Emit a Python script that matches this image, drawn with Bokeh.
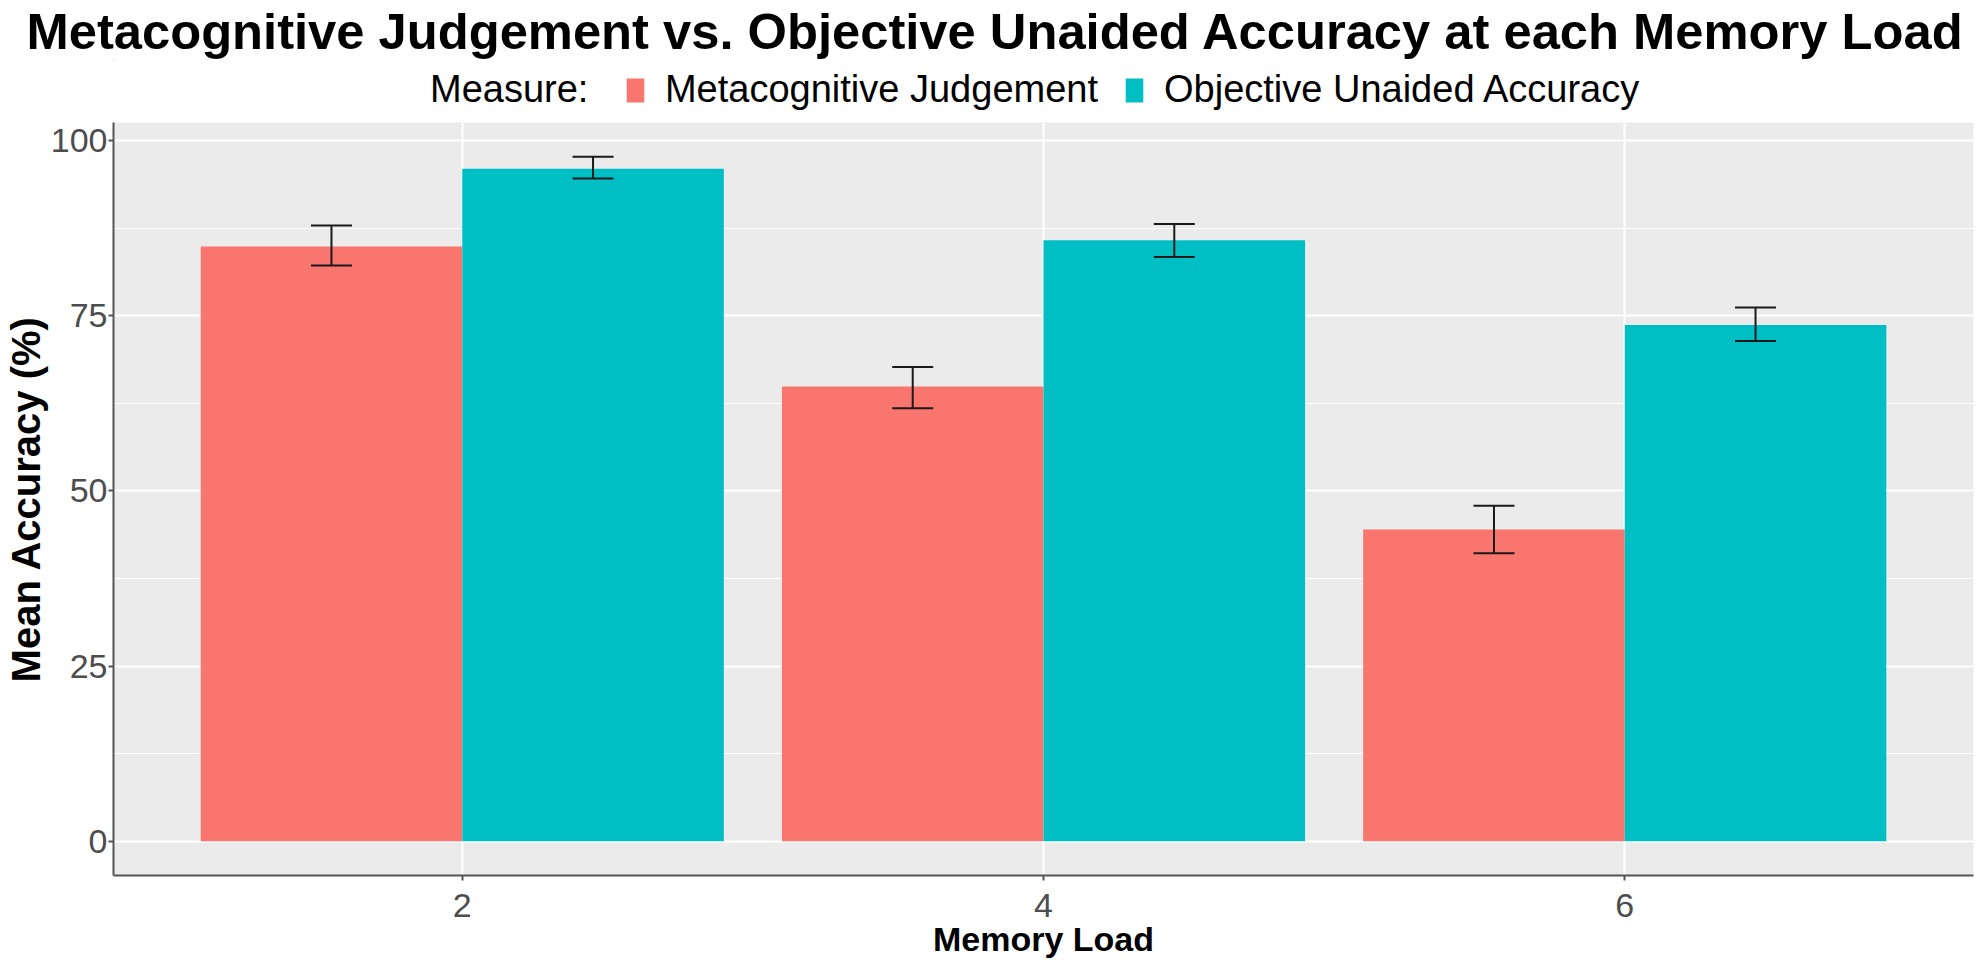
from bokeh.plotting import figure
from bokeh.models import (Range1d, FixedTicker, ColumnDataSource, Whisker, TeeHead,
                          Legend, LegendItem)
from bokeh.layouts import column
from bokeh.transform import dodge
from bokeh.embed import file_html
from bokeh.resources import INLINE

# ---- data ----
loads = ["2", "4", "6"]
positions = [1, 2, 3]
series = ["Metacognitive Judgement", "Objective Unaided Accuracy"]
colors = ["#F8766D", "#00BFC4"]
meta_mean = [84.9, 64.9, 44.5]
meta_lo = [82.2, 61.8, 41.1]
meta_hi = [87.9, 67.7, 47.9]
obj_mean = [96.0, 85.8, 73.7]
obj_lo = [94.6, 83.4, 71.4]
obj_hi = [97.7, 88.1, 76.2]
y_ticks = [0, 25, 50, 75, 100]
y_minor = [12.5, 37.5, 62.5, 87.5]
title_text = "Metacognitive Judgement vs. Objective Unaided Accuracy at each Memory Load"
legend_title = "Measure: "

FONT = "Liberation Sans"

src_m = ColumnDataSource(dict(x=positions, mean=meta_mean, lo=meta_lo, hi=meta_hi))
src_o = ColumnDataSource(dict(x=positions, mean=obj_mean, lo=obj_lo, hi=obj_hi))

# ---------------- header: title + legend ----------------
HEAD_H = 122
head = figure(width=1972, height=HEAD_H, output_backend="svg", toolbar_location=None,
              x_range=Range1d(10, 11), y_range=Range1d(-1, 0),
              x_axis_location=None, y_axis_location=None,
              min_border=0, min_border_left=0, min_border_right=0,
              min_border_top=0, min_border_bottom=0)
head.outline_line_color = None
head.background_fill_color = "white"
head.border_fill_color = "white"
head.grid.visible = False

head.title.text = title_text
head.title.text_font = FONT
head.title.text_font_size = "50.7px"
head.title.text_font_style = "bold"
head.title.text_color = "black"
head.title.align = "left"
head.title.offset = -87
head.title.standoff = 0

# key renderers (zero-size bars outside the header's ranges, only the legend keys show)
k_t = head.scatter(x=[], y=[], fill_alpha=0, line_alpha=0, size=0)
k_m = head.vbar(x="x", bottom="hi", top="hi", width=0, source=src_m,
                fill_color=colors[0], line_color=None)
k_o = head.vbar(x="x", bottom="hi", top="hi", width=0, source=src_o,
                fill_color=colors[1], line_color=None)

legend = Legend(items=[LegendItem(label=legend_title, renderers=[k_t]),
                       LegendItem(label=series[0], renderers=[k_m]),
                       LegendItem(label=series[1], renderers=[k_o])],
                orientation="horizontal", location=(276, HEAD_H - 111))
legend.label_text_font = FONT
legend.label_text_font_size = "38px"
legend.label_text_color = "black"
legend.glyph_width = 22
legend.glyph_height = 30
legend.label_height = 30
legend.label_standoff = 19
legend.spacing = 25
legend.padding = 4
legend.margin = 0
legend.border_line_color = None
legend.background_fill_alpha = 0
head.add_layout(legend)

# ---------------- main chart ----------------
p = figure(frame_width=1860, frame_height=753, output_backend="svg", toolbar_location=None,
           x_range=Range1d(0.4, 3.6), y_range=Range1d(-4.885, 102.6),
           min_border_left=104, min_border_right=4, min_border_top=0,
           min_border_bottom=60)
p.background_fill_color = "#EBEBEB"
p.border_fill_color = "white"
p.outline_line_color = None

off = 0.225
p.vbar(x=dodge("x", -off, range=p.x_range), top="mean", width=0.45,
       source=src_m, fill_color=colors[0], line_color=None)
p.vbar(x=dodge("x", off, range=p.x_range), top="mean", width=0.45,
       source=src_o, fill_color=colors[1], line_color=None)

for src, o in ((src_m, -off), (src_o, off)):
    w = Whisker(source=src, base=dodge("x", o, range=p.x_range), upper="hi", lower="lo",
                line_color="#1A1A1A", line_width=2, level="annotation",
                upper_head=TeeHead(size=41, line_color="#1A1A1A", line_width=2),
                lower_head=TeeHead(size=41, line_color="#1A1A1A", line_width=2))
    p.add_layout(w)

p.xaxis.ticker = FixedTicker(ticks=positions)
p.xaxis.major_label_overrides = {pos: lab for pos, lab in zip(positions, loads)}
p.yaxis.ticker = FixedTicker(ticks=y_ticks, minor_ticks=y_minor)
for ax in (p.xaxis, p.yaxis):
    ax.axis_line_color = "#555555"
    ax.axis_line_width = 2
    ax.major_tick_line_color = "#555555"
    ax.major_tick_line_width = 2
    ax.major_tick_out = 5
    ax.major_tick_in = 0
    ax.minor_tick_line_color = None
    ax.major_label_text_font = FONT
    ax.major_label_text_font_size = "34px"
    ax.major_label_text_color = "#4D4D4D"
    ax.axis_label_text_font = FONT
    ax.axis_label_text_font_style = "bold"
    ax.axis_label_text_color = "black"
p.xaxis.axis_label = "Memory Load"
p.yaxis.axis_label = "Mean Accuracy (%)"
p.xaxis.axis_label_text_font_size = "34px"
p.yaxis.axis_label_text_font_size = "40px"
p.xaxis.major_label_standoff = 13
p.xaxis.axis_label_standoff = 0
p.yaxis.major_label_standoff = 1
p.yaxis.axis_label_standoff = 0

p.xgrid.grid_line_color = "white"
p.xgrid.grid_line_width = 2
p.ygrid.grid_line_color = "white"
p.ygrid.grid_line_width = 2
p.ygrid.minor_grid_line_color = "white"
p.ygrid.minor_grid_line_width = 1

layout = column(head, p, spacing=0)
open("out.html", "w").write(file_html(layout, INLINE))
